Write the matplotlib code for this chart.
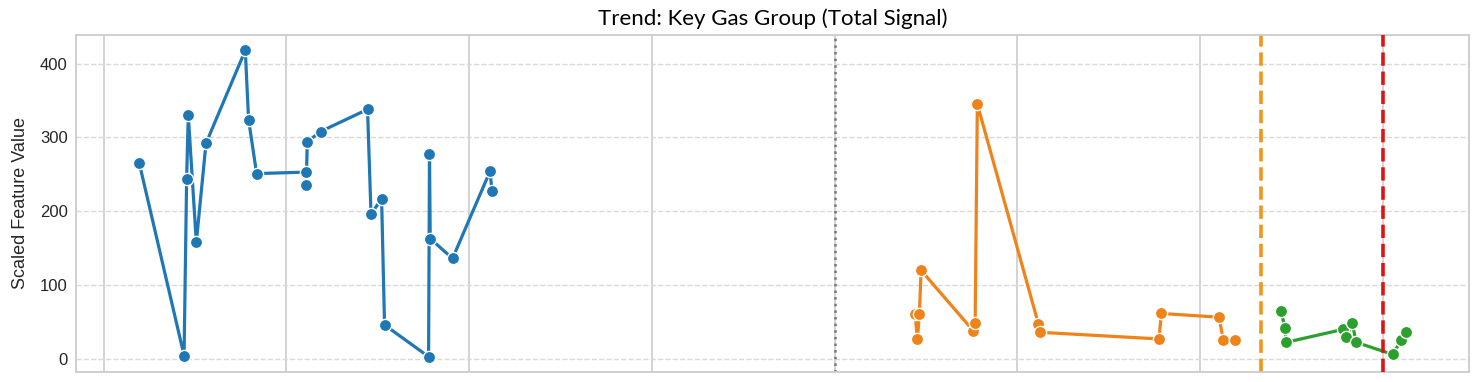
import numpy as np
import matplotlib.pyplot as plt
from matplotlib.ticker import MultipleLocator

# time axis in days (tick labels hidden in the source figure)
baseline_days = [1.95, 4.40, 4.54, 4.63, 5.07, 5.60, 7.75, 7.93, 8.37, 11.07, 11.09,
                 11.14, 11.87, 14.44, 14.63, 15.21, 15.37, 17.78, 17.83, 17.87,
                 19.09, 21.14, 21.25]
baseline_vals = [265, 4.5, 244, 330, 158, 292, 418, 324, 251, 253, 236,
                 294, 308, 338, 196, 217, 46, 3, 277, 163,
                 136, 254, 228]

fault_days = [44.40, 44.53, 44.64, 44.73, 47.59, 47.69, 47.81, 51.15, 51.26,
              57.75, 57.88, 61.03, 61.27, 61.91]
fault_vals = [61, 27, 61, 120, 38, 49, 345, 47.5, 36,
              27, 61.5, 56.5, 26, 25]

repair_days = [64.44, 64.63, 64.72, 67.83, 68.00, 68.33, 68.53, 70.55, 71.01, 71.25]
repair_vals = [64.5, 42.5, 22.5, 40, 29.5, 49, 22.5, 6, 26, 36]

split_day = 40.0       # gray dotted marker
alarm_day = 63.33      # orange dashed marker
failure_day = 70.0     # red dashed marker

plt.rcParams['font.family'] = ['Liberation Sans', 'DejaVu Sans']

fig = plt.figure(figsize=(14.84, 3.82), dpi=100)
ax = fig.add_axes([0.0512, 0.0262, 0.9387, 0.8822])

series = [
    (baseline_days, baseline_vals, '#1f77b4'),
    (fault_days, fault_vals, '#f0821a'),
    (repair_days, repair_vals, '#2ca02c'),
]
for days, vals, color in series:
    ax.plot(days, vals, color=color, lw=2.3, marker='o', markersize=8.8,
            markeredgecolor='white', markeredgewidth=1.0, zorder=3)

ax.axvline(split_day, color='#777777', ls=':', lw=1.8, zorder=2)
ax.axvline(alarm_day, color='#f0961a', ls='--', lw=2.6, zorder=2)
ax.axvline(failure_day, color='#dd1414', ls='--', lw=2.6, zorder=4)

ax.xaxis.set_major_locator(MultipleLocator(10))
ax.yaxis.set_major_locator(MultipleLocator(100))
ax.tick_params(axis='x', labelbottom=False, length=0)
ax.tick_params(axis='y', labelsize=12, length=0, pad=6, labelcolor='#262626')

ax.grid(True, axis='x', color='#cccccc', lw=1.2, zorder=0)
ax.grid(True, axis='y', color='#d9d9d9', ls='--', lw=1.0, zorder=0)
ax.set_axisbelow(True)
for spine in ax.spines.values():
    spine.set_color('#cccccc')
    spine.set_linewidth(1.3)

ax.set_ylabel('Scaled Feature Value', fontsize=13, color='#262626', labelpad=8)
ax.set_title('Trend: Key Gas Group (Total Signal)', fontsize=16,
             family=['Lato', 'DejaVu Sans'], pad=7)

plt.savefig('out.png', dpi=100)
plt.close()
